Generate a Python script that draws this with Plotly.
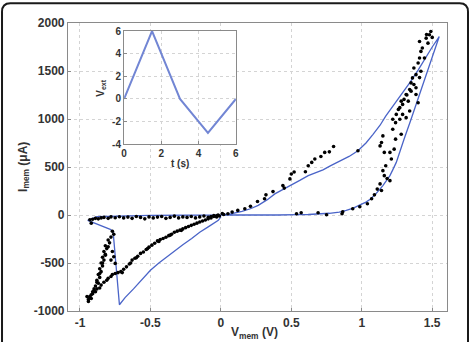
import plotly.graph_objects as go

# ---- model curve (blue line) ----
model_v = [0.0, 0.07, 0.15, 0.21, 0.265, 0.33, 0.383, 0.44, 0.5, 0.56, 0.62, 0.67, 0.725, 0.78, 0.843, 0.91,
           0.973, 1.03, 1.08, 1.13, 1.17, 1.22, 1.26, 1.30, 1.34, 1.40, 1.457, 1.50, 1.55,
           1.50, 1.45, 1.40, 1.35, 1.30, 1.27, 1.245, 1.22, 1.20, 1.15, 1.10, 1.06, 1.03, 0.98, 0.94, 0.89,
           0.84, 0.77, 0.70, 0.62, 0.55, 0.40, 0.0, -0.5, -0.88,
           -0.945, -0.785, -0.765, -0.72, -0.68, -0.62, -0.56, -0.50, -0.44, -0.38, -0.33, -0.27, -0.207,
           -0.15, -0.09, -0.05, -0.018, 0.0]
model_i = [0, 12, 38, 65, 100, 160, 220, 265, 305, 360, 410, 440, 470, 515, 560, 610,
           669, 750, 840, 935, 1030, 1130, 1220, 1300, 1377, 1510, 1652, 1750, 1859,
           1640, 1430, 1210, 997, 790, 660, 548, 470, 410, 306, 220, 165, 134, 100, 72, 48,
           31, 18, 10, 5, 3, 0, 0, -3, -18,
           -55, -150, -170, -935, -860, -770, -670, -575, -500, -430, -375, -310, -245,
           -180, -124, -85, -56, -20]

# ---- measured points (black dots) ----
meas_v = [
    # flat negative branch
    -0.93, -0.92, -0.91, -0.89, -0.87, -0.85, -0.83, -0.80, -0.78, -0.75, -0.72, -0.69, -0.66, -0.63, -0.60,
    -0.57, -0.54, -0.51, -0.48, -0.45, -0.42, -0.39, -0.36, -0.33, -0.30, -0.27, -0.24, -0.21, -0.18, -0.15,
    -0.12, -0.09, -0.07, -0.05, -0.03, -0.02, -0.01, 0.01, 0.02,
    # left descending band
    -0.77, -0.76, -0.78, -0.80, -0.79, -0.82, -0.81, -0.83, -0.82, -0.84, -0.83, -0.85, -0.84, -0.86, -0.85,
    -0.87, -0.86, -0.88, -0.87, -0.89, -0.90, -0.91, -0.92, -0.93, -0.94, -0.95, -0.76, -0.75, -0.77, -0.78,
    -0.80, -0.82, -0.84, -0.86, -0.88, -0.90, -0.92, -0.94,
    # lower return band
    -0.93, -0.91, -0.89, -0.88, -0.86, -0.85, -0.83, -0.81, -0.80, -0.78, -0.77, -0.75, -0.73, -0.71, -0.69,
    -0.67, -0.65, -0.63, -0.61, -0.59, -0.57, -0.55, -0.53, -0.51, -0.49, -0.47, -0.45, -0.43, -0.41, -0.39,
    -0.37, -0.35, -0.33, -0.31, -0.29, -0.27, -0.25, -0.23, -0.21, -0.19, -0.17, -0.15, -0.13, -0.11, -0.09,
    -0.07, -0.05, -0.03, -0.60, -0.52, -0.44, -0.36, -0.28, -0.70, -0.64,
    # positive upper branch
    0.05, 0.12, 0.17, 0.26, 0.31, 0.32, 0.37, 0.44, 0.45, 0.49, 0.50, 0.52, 0.60, 0.62, 0.645, 0.667, 0.71,
    0.737, 0.77, 0.80, 0.537, 0.57, 0.69, 0.75, 0.86, 0.08, 0.21,
    # right lower band
    0.865, 0.936, 0.973, 0.986, 1.04, 1.07, 1.09, 1.14, 1.13, 1.16, 1.15, 1.20, 1.17, 1.21, 1.20, 1.16, 1.13,
    1.14, 1.15, 1.23, 1.24, 1.22, 1.24, 1.27, 1.28, 1.11, 1.18,
    # right upper band
    1.22, 1.245, 1.27, 1.29, 1.30, 1.28, 1.315, 1.34, 1.35, 1.36, 1.385, 1.37, 1.40, 1.41, 1.42, 1.43, 1.41,
    1.457, 1.48, 1.49, 1.47, 1.445, 1.42, 1.37, 1.385, 1.35, 1.33, 1.385, 1.34, 1.29, 1.315, 1.40, 1.41,
    1.50, 1.46, 1.26, 1.32,
]
meas_i = [
    -50, -85, -45, -35, -40, -30, -25, -35, -20, -28, -18, -30, -22, -35, -15,
    -25, -40, -20, -30, -22, -15, -35, -25, -12, -30, -20, -25, -15, -30, -20,
    -10, -25, -15, -5, -20, 0, -10, 15, 5,
    -170, -200, -230, -260, -290, -320, -350, -380, -410, -440, -470, -500, -530, -560, -590,
    -620, -650, -680, -710, -740, -770, -800, -830, -860, -880, -850, -435, -504, -380, -470,
    -330, -420, -500, -610, -700, -790, -870, -900,
    -850, -820, -800, -770, -760, -730, -700, -680, -660, -640, -620, -610, -600, -590, -565,
    -540, -510, -470, -450, -430, -400, -385, -360, -335, -314, -295, -270, -255, -245, -232,
    -215, -200, -180, -168, -158, -145, -132, -120, -108, -97, -85, -73, -63, -52, -40,
    -30, -15, -8, -445, -350, -275, -210, -160, -600, -500,
    13, 48, 65, 140, 169, 210, 244, 306, 280, 376, 427, 448, 451, 513, 548, 583, 610,
    652, 658, 714, 13, 24, 24, 3, 13, 30, 90,
    34, 65, 669, 86, 117, 169, 210, 255, 324, 410, 462, 358, 513, 583, 652, 652, 720,
    755, 824, 686, 790, 893, 962, 997, 841, 270, 380,
    997, 1048, 1118, 1152, 1204, 1186, 1255, 1307, 1376, 1428, 1462, 1532, 1584, 1635, 1704, 1739, 1807,
    1842, 1877, 1911, 1790, 1635, 1497, 1359, 1325, 1290, 1186, 1255, 1083, 1048, 1014, 1170, 1431,
    1850, 1880, 1100, 1250,
]

# ---- inset: applied voltage ----
inset_t = [0, 1.5, 3, 4.5, 6]
inset_v = [0, 6, 0, -3, 0]

main_xticks = [-1, -0.5, 0, 0.5, 1, 1.5]
main_yticks = [-1000, -500, 0, 500, 1000, 1500, 2000]
inset_xticks = [0, 2, 4, 6]
inset_yticks = [-4, -2, 0, 2, 4, 6]

fig = go.Figure()
fig.add_trace(go.Scatter(x=model_v, y=model_i, mode="lines",
                         line=dict(color="#4a64c8", width=1.3), showlegend=False))
fig.add_trace(go.Scatter(x=meas_v, y=meas_i, mode="markers",
                         marker=dict(color="black", size=3.6), showlegend=False))
fig.add_trace(go.Scatter(x=inset_t, y=inset_v, mode="lines", xaxis="x2", yaxis="y2",
                         line=dict(color="#7286d4", width=2), showlegend=False))

axis_common = dict(showline=True, mirror=True, linecolor="#8a8a8a", linewidth=1.2,
                   showgrid=True, gridcolor="#d4d4d4", griddash="dot", gridwidth=1,
                   zeroline=False, ticks="inside", ticklen=3, tickcolor="#8a8a8a",
                   tickfont=dict(family="Liberation Sans, Arial", size=12, color="#333333", weight="bold"))
inset_font = dict(family="Liberation Sans, Arial", size=10, color="#333333", weight="bold")

fig.update_layout(
    width=471, height=342,
    margin=dict(l=68, r=24, t=23, b=29),
    paper_bgcolor="white", plot_bgcolor="white",
    xaxis=dict(range=[-1.085, 1.605], tickvals=main_xticks,
               ticktext=[str(v) for v in main_xticks], domain=[0, 1], **axis_common),
    yaxis=dict(range=[-1000, 2000], tickvals=main_yticks,
               ticktext=[str(v) for v in main_yticks], domain=[0, 1], **axis_common),
    xaxis2=dict(domain=[0.148, 0.443], anchor="y2", range=[0, 6], tickvals=inset_xticks,
                ticktext=[str(v) for v in inset_xticks], **{**axis_common, "tickfont": inset_font}),
    yaxis2=dict(domain=[0.579, 0.972], anchor="x2", range=[-4, 6], tickvals=inset_yticks,
                ticktext=[str(v) for v in inset_yticks], **{**axis_common, "tickfont": inset_font}),
    font=dict(family="Liberation Sans, Arial", color="#333333"),
)

# axis titles as annotations
fig.add_annotation(text="<b>V<sub>mem</sub> (V)</b>", xref="paper", yref="paper",
                   x=0.493, y=-0.04, xanchor="center", yanchor="top", showarrow=False,
                   font=dict(size=12, color="#333333"))
fig.add_annotation(text="<b>I<sub>mem</sub> (μA)</b>", xref="paper", yref="paper",
                   x=-0.09, y=0.5, xanchor="right", yanchor="middle", textangle=-90, showarrow=False,
                   font=dict(size=12, color="#333333"))
fig.add_annotation(text="<b>t (s)</b>", xref="paper", yref="paper",
                   x=0.2955, y=0.537, xanchor="center", yanchor="top", showarrow=False,
                   font=dict(size=10, color="#333333"))
fig.add_annotation(text="<b>V<sub>ext</sub></b>", xref="paper", yref="paper",
                   x=0.108, y=0.775, xanchor="right", yanchor="middle", textangle=-90, showarrow=False,
                   font=dict(size=10, color="#333333"))

# rounded outer frame (open at bottom)
x0, x1, y0, y1 = -0.1741, 1.0554, -0.12, 1.069
rx, ry = 0.022, 0.03
path = (f"M {x0},{y0} L {x0},{y1-ry} Q {x0},{y1} {x0+rx},{y1} "
        f"L {x1-rx},{y1} Q {x1},{y1} {x1},{y1-ry} L {x1},{y0}")
fig.add_shape(type="path", path=path, xref="paper", yref="paper",
              line=dict(color="#1a1a1a", width=2), layer="above")

fig.write_html("out.html")
